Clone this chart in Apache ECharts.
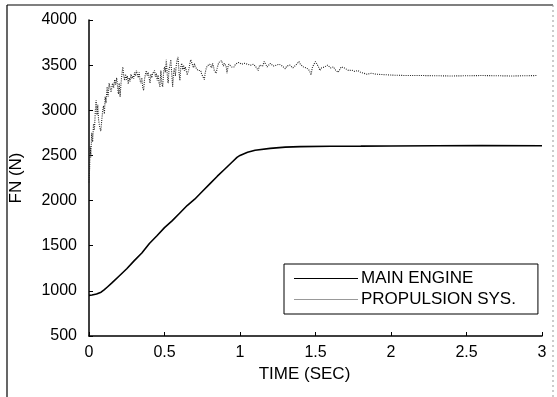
<!DOCTYPE html>
<html>
<head>
<meta charset="utf-8">
<script src="https://cdn.jsdelivr.net/npm/echarts@6/dist/echarts.min.js"></script>
<style>
  html, body { margin: 0; padding: 0; background: #fff; }
  #chart { width: 557px; height: 397px; }
</style>
</head>
<body>
<div id="chart"></div>
<script>
// Thrust history: main engine vs. full propulsion system
const xTicks = [0, 0.5, 1, 1.5, 2, 2.5, 3];
const yTicks = [500, 1000, 1500, 2000, 2500, 3000, 3500, 4000];

const mainTime = [0, 0.02, 0.05, 0.08, 0.1, 0.12, 0.15, 0.2, 0.25, 0.3, 0.35, 0.4, 0.45, 0.5,
  0.55, 0.6, 0.65, 0.7, 0.75, 0.8, 0.85, 0.9, 0.95, 0.98, 1.0, 1.05, 1.1, 1.2, 1.3, 1.4,
  1.6, 1.8, 2.0, 2.3, 2.6, 3.0];
const mainForce = [950, 955, 965, 985, 1010, 1040, 1085, 1165, 1245, 1335, 1420, 1525, 1610, 1700,
  1775, 1860, 1945, 2015, 2100, 2185, 2270, 2350, 2430, 2478, 2500, 2535, 2558, 2578, 2592, 2598,
  2602, 2603, 2605, 2608, 2610, 2607];

const propTime = [0.000, 0.004, 0.008, 0.012, 0.018, 0.024, 0.030, 0.036, 0.042, 0.047, 0.053, 0.058,
  0.063, 0.070, 0.078, 0.085, 0.091, 0.096, 0.102, 0.107, 0.113, 0.120, 0.126, 0.133, 0.140, 0.146,
  0.150, 0.156, 0.163, 0.170, 0.176, 0.183, 0.190, 0.195, 0.200, 0.206, 0.212, 0.218, 0.224, 0.230,
  0.236, 0.242, 0.248, 0.254, 0.260, 0.266, 0.272, 0.278, 0.284, 0.290, 0.296, 0.302, 0.308, 0.314,
  0.320, 0.326, 0.332, 0.338, 0.344, 0.350, 0.356, 0.362, 0.368, 0.374, 0.380, 0.386, 0.392, 0.398,
  0.404, 0.410, 0.416, 0.422, 0.428, 0.434, 0.440, 0.446, 0.452, 0.458, 0.464, 0.470, 0.476, 0.482,
  0.488, 0.494, 0.500, 0.506, 0.512, 0.518, 0.524, 0.530, 0.536, 0.542, 0.548, 0.554, 0.560, 0.566,
  0.572, 0.578, 0.584, 0.590, 0.596, 0.602, 0.608, 0.614, 0.620, 0.626, 0.632, 0.638, 0.644, 0.650,
  0.656, 0.662, 0.668, 0.674, 0.680, 0.686, 0.692, 0.698, 0.704, 0.710, 0.716, 0.722, 0.728, 0.734,
  0.740, 0.746, 0.752, 0.758, 0.764, 0.770, 0.776, 0.782, 0.788, 0.794, 0.800, 0.806, 0.812, 0.818,
  0.824, 0.830, 0.836, 0.842, 0.848, 0.854, 0.860, 0.866, 0.872, 0.878, 0.884, 0.890, 0.896, 0.902,
  0.908, 0.914, 0.920, 0.926, 0.932, 0.938, 0.944, 0.950, 0.960, 0.970, 0.980, 0.990, 1.000, 1.010,
  1.020, 1.030, 1.040, 1.050, 1.060, 1.070, 1.080, 1.090, 1.100, 1.110, 1.120, 1.130, 1.140, 1.150,
  1.160, 1.170, 1.180, 1.190, 1.200, 1.210, 1.220, 1.230, 1.240, 1.250, 1.260, 1.270, 1.280, 1.290,
  1.300, 1.310, 1.320, 1.330, 1.340, 1.350, 1.360, 1.370, 1.380, 1.390, 1.400, 1.410, 1.420, 1.430,
  1.440, 1.450, 1.460, 1.470, 1.480, 1.490, 1.500, 1.510, 1.520, 1.530, 1.540, 1.550, 1.560, 1.570,
  1.580, 1.590, 1.600, 1.610, 1.620, 1.630, 1.640, 1.650, 1.660, 1.670, 1.680, 1.690, 1.700, 1.720,
  1.740, 1.760, 1.780, 1.800, 1.820, 1.840, 1.870, 1.900, 1.950, 2.000, 2.100, 2.200, 2.400, 2.600,
  2.800, 2.970];
const propForce = [2200, 2350, 2600, 2480, 2750, 2650, 2850, 2780, 3000, 3110, 2950, 3060,
  2900, 2820, 2770, 2900, 3000, 3050, 2960, 3150, 3080, 3260, 3150, 3300, 3290, 3200,
  3180, 3300, 3250, 3340, 3280, 3360, 3250, 3180, 3300, 3150, 3300, 3400, 3480, 3380,
  3330, 3400, 3340, 3380, 3290, 3360, 3320, 3400, 3350, 3380, 3350, 3420, 3380, 3440,
  3400, 3360, 3420, 3330, 3300, 3360, 3250, 3220, 3350, 3400, 3440, 3380, 3420, 3360,
  3300, 3400, 3360, 3410, 3390, 3440, 3370, 3410, 3330, 3390, 3300, 3260, 3440, 3300,
  3260, 3420, 3480, 3420, 3560, 3400, 3300, 3450, 3500, 3560, 3400, 3260, 3420, 3470,
  3380, 3500, 3560, 3590, 3420, 3330, 3480, 3520, 3450, 3500, 3440, 3480, 3440, 3390,
  3370, 3460, 3520, 3560, 3575, 3500, 3470, 3520, 3480, 3500, 3470, 3440, 3460, 3420,
  3440, 3400, 3420, 3380, 3340, 3420, 3460, 3490, 3500, 3480, 3510, 3490, 3470, 3520,
  3490, 3440, 3420, 3410, 3460, 3500, 3530, 3540, 3510, 3550, 3530, 3490, 3520, 3500,
  3490, 3410, 3480, 3510, 3500, 3520, 3480, 3500, 3480, 3510, 3500, 3530, 3540, 3510,
  3490, 3520, 3530, 3510, 3530, 3500, 3480, 3510, 3500, 3470, 3440, 3500, 3520, 3490,
  3540, 3510, 3480, 3500, 3520, 3510, 3490, 3470, 3500, 3490, 3510, 3520, 3490, 3470,
  3460, 3490, 3480, 3500, 3490, 3470, 3460, 3500, 3520, 3540, 3510, 3500, 3480, 3500,
  3470, 3450, 3440, 3390, 3480, 3500, 3540, 3520, 3480, 3440, 3470, 3460, 3480, 3490,
  3500, 3480, 3470, 3460, 3480, 3450, 3440, 3420, 3450, 3480, 3460, 3470, 3450, 3440,
  3445, 3430, 3440, 3420, 3410, 3400, 3410, 3400, 3395, 3390, 3385, 3385, 3380, 3385,
  3380, 3385];

const zip = (xs, ys) => xs.map((x, i) => [x, ys[i]]);

const FONT = 'Liberation Sans, Arial, sans-serif';
const chart = echarts.init(document.getElementById('chart'), null, { renderer: 'canvas' });

chart.setOption({
  backgroundColor: '#fff',
  animation: false,
  grid: { left: 89, right: 15, top: 20, bottom: 61, containLabel: false },
  legend: {
    orient: 'vertical',
    left: 284,
    top: 264,
    padding: [6, 22, 6, 10],
    itemGap: 4,
    itemWidth: 64,
    itemHeight: 15,
    borderColor: '#000',
    borderWidth: 1,
    borderRadius: 0,
    backgroundColor: '#fff',
    icon: 'path://M0,7L64,7L64,8L0,8Z',
    textStyle: { fontFamily: FONT, fontSize: 17, color: '#000', padding: [0, 0, 0, -2] },
    data: ['MAIN ENGINE', 'PROPULSION SYS.']
  },
  xAxis: {
    type: 'value',
    min: 0, max: 3, interval: 0.5,
    name: 'TIME (SEC)',
    nameLocation: 'middle',
    nameGap: 29,
    nameTextStyle: { fontFamily: FONT, fontSize: 17, color: '#000', padding: [0, 22, 0, 0] },
    axisLine: { show: true, lineStyle: { color: '#000', width: 1.5 } },
    axisTick: { show: true, inside: true, length: 4, lineStyle: { color: '#000' } },
    axisLabel: {
      fontFamily: FONT, fontSize: 16, color: '#000', margin: 9,
      formatter: v => (xTicks.includes(v) ? String(v) : '')
    },
    splitLine: { show: false }
  },
  yAxis: {
    type: 'value',
    min: 500, max: 4000, interval: 500,
    name: 'FN (N)',
    nameLocation: 'middle',
    nameGap: 64,
    nameTextStyle: { fontFamily: FONT, fontSize: 17, color: '#000' },
    axisLine: { show: true, lineStyle: { color: '#000', width: 1.5 } },
    axisTick: { show: true, inside: true, length: 4, lineStyle: { color: '#000' } },
    axisLabel: {
      fontFamily: FONT, fontSize: 16, color: '#000', margin: 12,
      formatter: v => (yTicks.includes(v) ? String(v) : '')
    },
    splitLine: { show: false }
  },
  series: [
    {
      name: 'MAIN ENGINE',
      type: 'line',
      data: zip(mainTime, mainForce),
      showSymbol: false,
      symbol: 'none',
      lineStyle: { color: '#000', width: 1.6 },
      itemStyle: { color: '#000' },
      z: 3
    },
    {
      name: 'PROPULSION SYS.',
      type: 'line',
      data: zip(propTime, propForce),
      showSymbol: false,
      symbol: 'none',
      lineStyle: { color: '#222', width: 1.1, type: [1, 1.2] },
      itemStyle: { color: '#999' },
      z: 2
    }
  ],
  graphic: [
    // page frame
    { type: 'line', shape: { x1: 7, y1: 5, x2: 553, y2: 5 }, style: { stroke: '#000', lineWidth: 1.2 } },
    { type: 'line', shape: { x1: 7, y1: 5, x2: 7, y2: 397 }, style: { stroke: '#000', lineWidth: 1.2 } },
    { type: 'line', shape: { x1: 553, y1: 5, x2: 553, y2: 397 }, style: { stroke: '#999', lineWidth: 1, lineDash: [2, 3] } }
  ]
});
</script>
</body>
</html>
